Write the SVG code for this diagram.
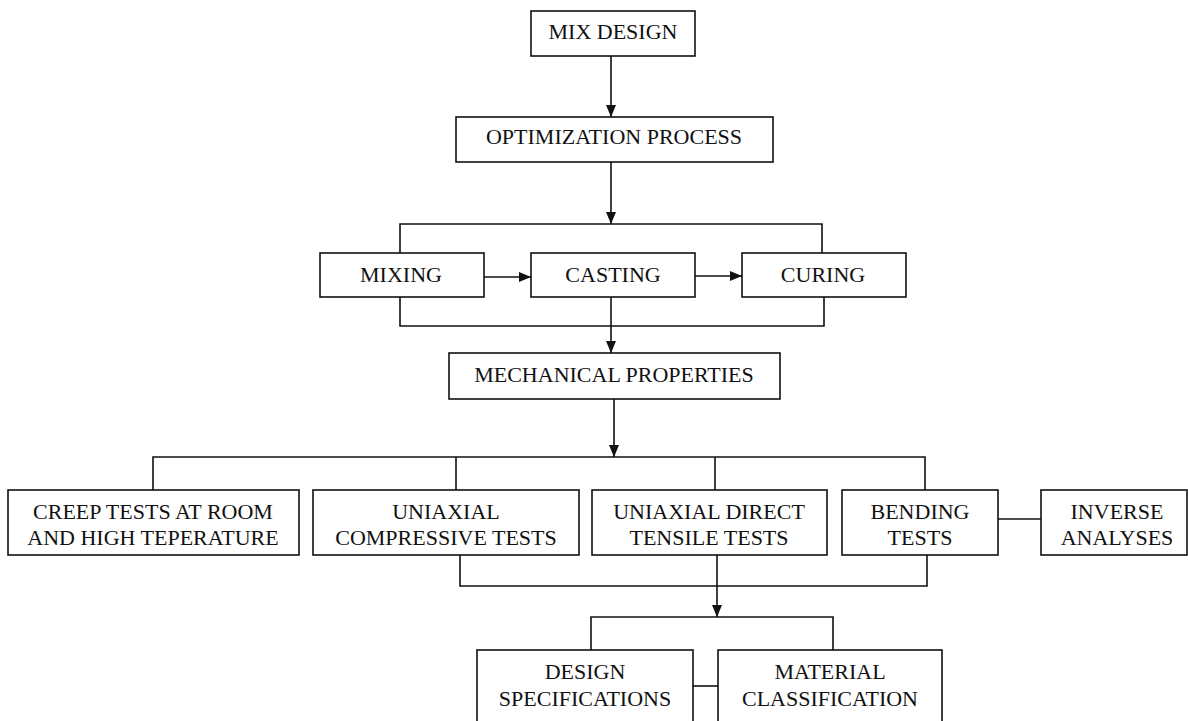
<svg xmlns="http://www.w3.org/2000/svg" width="1188" height="721" viewBox="0 0 1188 721">
<style>
.box{fill:#fff;stroke:#111;stroke-width:1.6}
.t{font-family:"Liberation Serif","Times New Roman",serif;font-size:22px;fill:#111;text-anchor:middle}
.c{fill:none;stroke:#111;stroke-width:1.6}
</style>
<defs>
<marker id="ah" viewBox="0 0 12 10" refX="12" refY="5" markerWidth="12" markerHeight="10" markerUnits="userSpaceOnUse" orient="auto">
<path d="M0,0 L12,5 L0,10 Z" fill="#111"/>
</marker>
</defs>
<rect width="1188" height="721" fill="#fff"/>
<g id="connectors">
<line class="c" x1="611" y1="56" x2="611" y2="117" marker-end="url(#ah)"/>
<line class="c" x1="611" y1="162" x2="611" y2="224" marker-end="url(#ah)"/>
<polyline class="c" points="400,253 400,224 822,224 822,253"/>
<line class="c" x1="484" y1="277" x2="531" y2="277" marker-end="url(#ah)"/>
<line class="c" x1="695" y1="276" x2="742" y2="276" marker-end="url(#ah)"/>
<polyline class="c" points="400,297 400,326 824,326 824,297"/>
<line class="c" x1="611" y1="297" x2="611" y2="353" marker-end="url(#ah)"/>
<line class="c" x1="614" y1="399" x2="614" y2="457" marker-end="url(#ah)"/>
<polyline class="c" points="153,490 153,457 925,457 925,490"/>
<line class="c" x1="456" y1="457" x2="456" y2="490"/>
<line class="c" x1="715" y1="457" x2="715" y2="490"/>
<line class="c" x1="998" y1="519" x2="1041" y2="519"/>
<polyline class="c" points="460,555 460,586 927,586 927,555"/>
<line class="c" x1="717" y1="555" x2="717" y2="617" marker-end="url(#ah)"/>
<polyline class="c" points="591,650 591,617 833,617 833,650"/>
<line class="c" x1="693" y1="686" x2="718" y2="686"/>
</g>
<g id="mix-design"><rect class="box" x="531" y="11" width="164" height="45"/><text class="t" x="613" y="39">MIX DESIGN</text></g>
<g id="optimization"><rect class="box" x="456" y="117" width="317" height="45"/><text class="t" x="614" y="144">OPTIMIZATION PROCESS</text></g>
<g id="mixing"><rect class="box" x="320" y="253" width="164" height="44"/><text class="t" x="401" y="282">MIXING</text></g>
<g id="casting"><rect class="box" x="531" y="253" width="164" height="44"/><text class="t" x="613" y="282">CASTING</text></g>
<g id="curing"><rect class="box" x="742" y="253" width="164" height="44"/><text class="t" x="823" y="282">CURING</text></g>
<g id="mechanical"><rect class="box" x="449" y="353" width="331" height="46"/><text class="t" x="614" y="382">MECHANICAL PROPERTIES</text></g>
<g id="creep"><rect class="box" x="8" y="490" width="291" height="65"/><text class="t" x="153" y="519">CREEP TESTS AT ROOM</text><text class="t" x="153" y="545">AND HIGH TEPERATURE</text></g>
<g id="compressive"><rect class="box" x="313" y="490" width="266" height="65"/><text class="t" x="446" y="519">UNIAXIAL</text><text class="t" x="446" y="545">COMPRESSIVE TESTS</text></g>
<g id="tensile"><rect class="box" x="592" y="490" width="235" height="65"/><text class="t" x="709" y="519">UNIAXIAL DIRECT</text><text class="t" x="709" y="545">TENSILE TESTS</text></g>
<g id="bending"><rect class="box" x="842" y="490" width="156" height="65"/><text class="t" x="920" y="519">BENDING</text><text class="t" x="920" y="545">TESTS</text></g>
<g id="inverse"><rect class="box" x="1041" y="490" width="146" height="65"/><text class="t" x="1117" y="519">INVERSE</text><text class="t" x="1117" y="545">ANALYSES</text></g>
<g id="design"><rect class="box" x="477" y="650" width="216" height="80"/><text class="t" x="585" y="679">DESIGN</text><text class="t" x="585" y="706">SPECIFICATIONS</text></g>
<g id="material"><rect class="box" x="718" y="650" width="224" height="80"/><text class="t" x="830" y="679">MATERIAL</text><text class="t" x="830" y="706">CLASSIFICATION</text></g>
</svg>
